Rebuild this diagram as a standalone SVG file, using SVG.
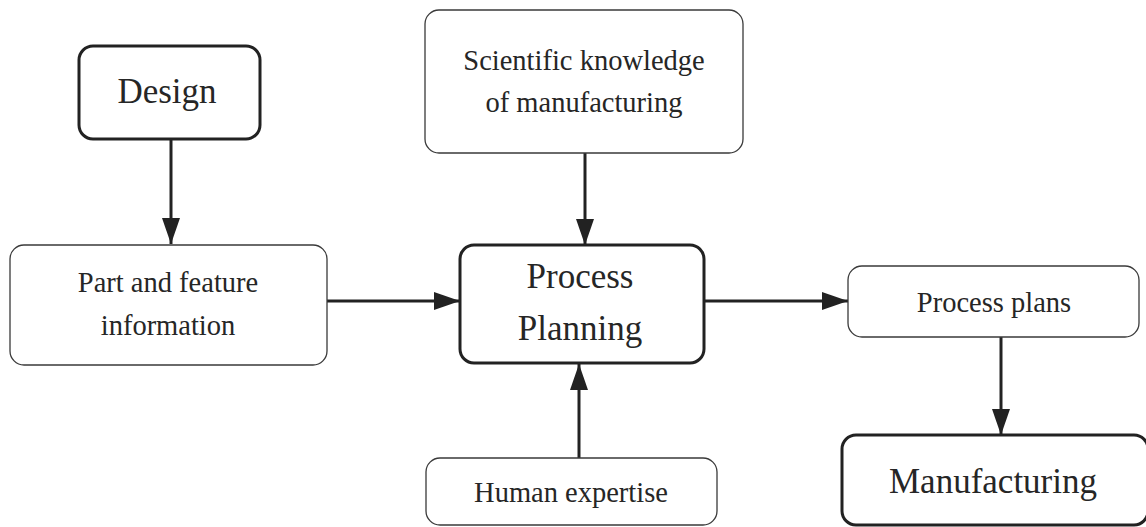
<svg xmlns="http://www.w3.org/2000/svg" width="1146" height="527" viewBox="0 0 1146 527">
<style>
.thin{fill:#fff;stroke:#3a3a3a;stroke-width:1.3}
.thick{fill:#fff;stroke:#222;stroke-width:3}
.t{font-family:"Liberation Serif","Times New Roman",serif;fill:#262626;text-anchor:middle}
.s{font-size:28.5px}
.b{font-size:35px}
.c{stroke:#222;stroke-width:3;fill:none;marker-end:url(#ah)}
</style>
<defs>
<marker id="ah" markerUnits="userSpaceOnUse" markerWidth="26" markerHeight="18" refX="26" refY="9" orient="auto">
<path d="M0,0 L26,9 L0,18 z" fill="#222"/>
</marker>
</defs>
<g id="connectors">
<line class="c" x1="171" y1="139" x2="171" y2="244"/>
<line class="c" x1="585" y1="153" x2="585" y2="245"/>
<line class="c" x1="327" y1="301" x2="460" y2="301"/>
<line class="c" x1="704" y1="301" x2="848" y2="301"/>
<line class="c" x1="579" y1="458" x2="579" y2="364"/>
<line class="c" x1="1001" y1="337" x2="1001" y2="435"/>
</g>
<g id="design">
<rect class="thick" x="79" y="46" width="181" height="93" rx="14"/>
<text class="t b" x="167" y="103">Design</text>
</g>
<g id="part">
<rect class="thin" x="10" y="245" width="317" height="120" rx="14"/>
<text class="t s" x="168" y="292">Part and feature</text>
<text class="t s" x="168" y="335">information</text>
</g>
<g id="scientific">
<rect class="thin" x="425" y="10" width="318" height="143" rx="14"/>
<text class="t s" x="584" y="70">Scientific knowledge</text>
<text class="t s" x="584" y="112">of manufacturing</text>
</g>
<g id="process-planning">
<rect class="thick" x="460" y="245" width="244" height="118" rx="14"/>
<text class="t b" x="580" y="288">Process</text>
<text class="t b" x="580" y="340">Planning</text>
</g>
<g id="human">
<rect class="thin" x="426" y="458" width="291" height="67" rx="14"/>
<text class="t s" x="571" y="502">Human expertise</text>
</g>
<g id="process-plans">
<rect class="thin" x="848" y="266" width="291" height="71" rx="14"/>
<text class="t s" x="994" y="312">Process plans</text>
</g>
<g id="manufacturing">
<rect class="thick" x="842" y="435" width="306" height="90" rx="14"/>
<text class="t b" x="993" y="493">Manufacturing</text>
</g>
</svg>
